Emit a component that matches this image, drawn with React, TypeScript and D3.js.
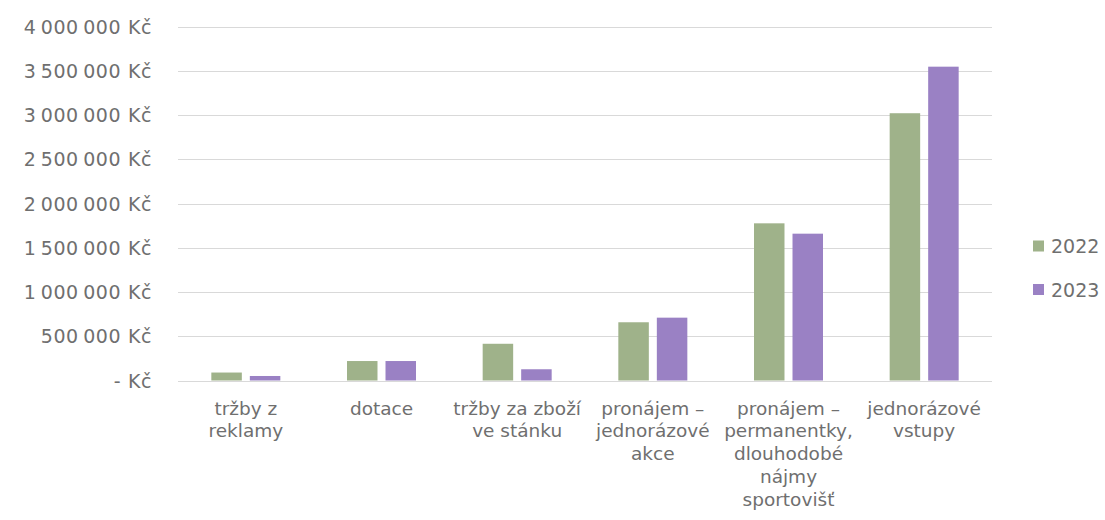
import React from "react";
import * as d3 from "d3";

// Revenue by source, 2022 vs 2023 (CZK)
const categories: string[][] = [
  ["tržby z", "reklamy"],
  ["dotace"],
  ["tržby za zboží", "ve stánku"],
  ["pronájem –", "jednorázové", "akce"],
  ["pronájem –", "permanentky,", "dlouhodobé", "nájmy", "sportovišť"],
  ["jednorázové", "vstupy"],
];
const seriesNames = ["2022", "2023"];
const values2022 = [90000, 220000, 415000, 658000, 1776000, 3020000];
const values2023 = [51000, 220000, 127000, 710000, 1659000, 3546000];
const yTicks = [0, 500000, 1000000, 1500000, 2000000, 2500000, 3000000, 3500000, 4000000];
const colors = ["#9fb28a", "#9a81c4"];

const W = 1105;
const H = 520;
const FONT = "'DejaVu Sans', sans-serif";
const TEXT = "#6f6f6f";

const fmt = (v: number) =>
  v === 0 ? "- Kč" : d3.format(",")(v).replace(/,/g, "\u2009") + " Kč";

export default function App() {
  const keys = categories.map((c) => c.join(" "));
  const x0 = d3.scaleBand<string>().domain(keys).range([178, 992]).padding(0);
  const bw = x0.bandwidth();
  const groupW = 69;
  const x1 = d3
    .scaleBand<string>()
    .domain(seriesNames)
    .range([bw / 2 - groupW / 2, bw / 2 + groupW / 2])
    .paddingInner(0.208)
    .paddingOuter(0);
  const y = d3.scaleLinear().domain([0, 4000000]).range([380.5, 26.5]);
  const series = [values2022, values2023];

  return (
    <svg
      width={W}
      height={H}
      style={{ position: "absolute", left: 0, top: 0, background: "#fff" }}
      fontFamily={FONT}
    >
      {yTicks.map((t) => (
        <g key={t}>
          <line
            x1={178}
            x2={992}
            y1={Math.round(y(t)) + 0.5}
            y2={Math.round(y(t)) + 0.5}
            stroke="#d9d9d9"
            strokeWidth={1}
          />
          <text
            x={152}
            y={y(t)}
            textAnchor="end"
            dominantBaseline="central"
            fontSize={19}
            letterSpacing={0.6}
            fill={TEXT}
          >
            {fmt(t)}
          </text>
        </g>
      ))}

      {series.map((vals, si) =>
        vals.map((v, i) => (
          <rect
            key={`${si}-${i}`}
            x={(x0(keys[i]) ?? 0) + (x1(seriesNames[si]) ?? 0)}
            y={y(v)}
            width={x1.bandwidth()}
            height={y(0) - y(v)}
            fill={colors[si]}
          />
        ))
      )}

      {categories.map((lines, i) => (
        <text
          key={i}
          x={(x0(keys[i]) ?? 0) + bw / 2}
          y={414.5}
          textAnchor="middle"
          fontSize={18.5}
          fill={TEXT}
        >
          {lines.map((l, j) => (
            <tspan key={j} x={(x0(keys[i]) ?? 0) + bw / 2} dy={j === 0 ? 0 : 22.8}>
              {l}
            </tspan>
          ))}
        </text>
      ))}

      {seriesNames.map((s, i) => (
        <g key={s} transform={`translate(1033, ${246 + i * 43.5})`}>
          <rect x={0} y={-5.5} width={11} height={11} fill={colors[i]} />
          <text
            x={18}
            y={0}
            dominantBaseline="central"
            fontSize={19}
            fill={TEXT}
          >
            {s}
          </text>
        </g>
      ))}
    </svg>
  );
}
